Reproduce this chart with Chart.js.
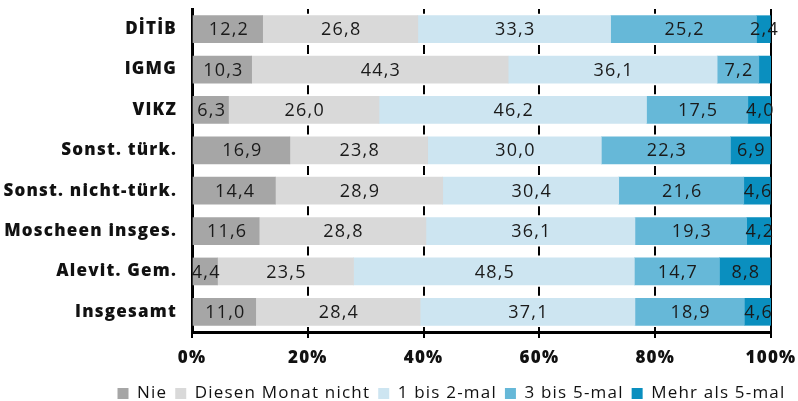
<!DOCTYPE html>
<html>
<head>
<meta charset="utf-8">
<script src="https://cdn.jsdelivr.net/npm/chart.js@4.4.1/dist/chart.umd.min.js"></script>
<style>
  body { margin: 0; background: #fff; }
  canvas { display: block; }
</style>
</head>
<body>
<canvas id="chart" width="798" height="401"></canvas>
<script>
const categories = ['DİTİB', 'IGMG', 'VIKZ', 'Sonst. türk.', 'Sonst. nicht-türk.', 'Moscheen insges.', 'Alevit. Gem.', 'Insgesamt'];
const nie = [12.2, 10.3, 6.3, 16.9, 14.4, 11.6, 4.4, 11.0];
const diesenMonatNicht = [26.8, 44.3, 26.0, 23.8, 28.9, 28.8, 23.5, 28.4];
const einsBisZwei = [33.3, 36.1, 46.2, 30.0, 30.4, 36.1, 48.5, 37.1];
const dreiBisFuenf = [25.2, 7.2, 17.5, 22.3, 21.6, 19.3, 14.7, 18.9];
const mehrAlsFuenf = [2.4, 2.1, 4.0, 6.9, 4.6, 4.2, 8.8, 4.6];
const xTicks = [0, 20, 40, 60, 80, 100];

const FONT = "'Open Sans', sans-serif";
const SPACING = '1.2px';

// spacing of the source font is wider than Open Sans
const spacingPlugin = {
    id: 'spacing',
    beforeUpdate(chart) { chart.ctx.letterSpacing = SPACING; },
    beforeLayout(chart) { chart.ctx.letterSpacing = SPACING; },
    afterLayout(chart) {
        // legend sits a bit right of the canvas centre in the original
        chart.legend.left += 66;
        chart.legend.right += 66;
    },
    beforeDraw(chart) { chart.ctx.letterSpacing = SPACING; }
};

const valueLabels = {
    id: 'valueLabels',
    afterDatasetsDraw(chart) {
        const ctx = chart.ctx;
        ctx.save();
        ctx.font = '18px ' + FONT;
        ctx.fillStyle = '#1a1a1a';
        ctx.textAlign = 'center';
        ctx.textBaseline = 'middle';
        chart.data.datasets.forEach((ds, i) => {
            chart.getDatasetMeta(i).data.forEach((bar, j) => {
                const v = ds.data[j];
                if (v < 2.2) return;
                ctx.fillText(v.toFixed(1).replace('.', ','), (bar.x + bar.base) / 2 + 1, bar.y + 1);
            });
        });
        ctx.restore();
    }
};

const series = [
    { label: 'Nie', data: nie, color: '#a6a6a6' },
    { label: 'Diesen Monat nicht', data: diesenMonatNicht, color: '#d9d9d9' },
    { label: '1 bis 2-mal', data: einsBisZwei, color: '#cde5f1' },
    { label: '3 bis 5-mal', data: dreiBisFuenf, color: '#66b8d8' },
    { label: 'Mehr als 5-mal', data: mehrAlsFuenf, color: '#0a8fbf' }
];

new Chart(document.getElementById('chart'), {
    type: 'bar',
    data: {
        labels: categories,
        datasets: series.map(s => ({
            label: s.label,
            data: s.data,
            backgroundColor: s.color,
            borderWidth: 0,
            barThickness: 27
        }))
    },
    options: {
        indexAxis: 'y',
        responsive: false,
        animation: false,
        layout: { padding: { top: 9, right: 27, bottom: -11, left: 0 } },
        scales: {
            x: {
                stacked: true,
                min: 0,
                max: 100,
                afterBuildTicks: (scale) => { scale.ticks = xTicks.map(v => ({ value: v })); },
                afterFit: (scale) => {
                    scale.height = 45;
                    scale.paddingLeft = 0;
                    scale.paddingRight = 0;
                },
                ticks: {
                    color: '#111',
                    font: { family: FONT, size: 17, weight: '800' },
                    padding: 10,
                    maxRotation: 0,
                    callback: (v) => v + '%'
                },
                grid: {
                    color: '#000',
                    lineWidth: 2,
                    tickLength: 6
                },
                border: {
                    color: '#000',
                    width: 3,
                    dash: (ctx) => (ctx.tick && ctx.tick.value === 100) ? [] : [9, 31.3],
                    dashOffset: 4.3
                }
            },
            y: {
                stacked: true,
                afterFit: (scale) => {
                    scale.width = 192;
                    scale.paddingTop = 0;
                    scale.paddingBottom = 0;
                },
                ticks: {
                    color: '#111',
                    font: { family: FONT, size: 17, weight: '800' },
                    padding: 15
                },
                grid: { display: false, drawTicks: false },
                border: { color: '#000', width: 3 }
            }
        },
        plugins: {
            legend: {
                position: 'bottom',
                labels: {
                    color: '#111',
                    font: { family: FONT, size: 17 },
                    boxWidth: 11,
                    boxHeight: 11,
                    padding: 8
                }
            },
            tooltip: { enabled: false }
        }
    },
    plugins: [spacingPlugin, valueLabels]
});
</script>
</body>
</html>
